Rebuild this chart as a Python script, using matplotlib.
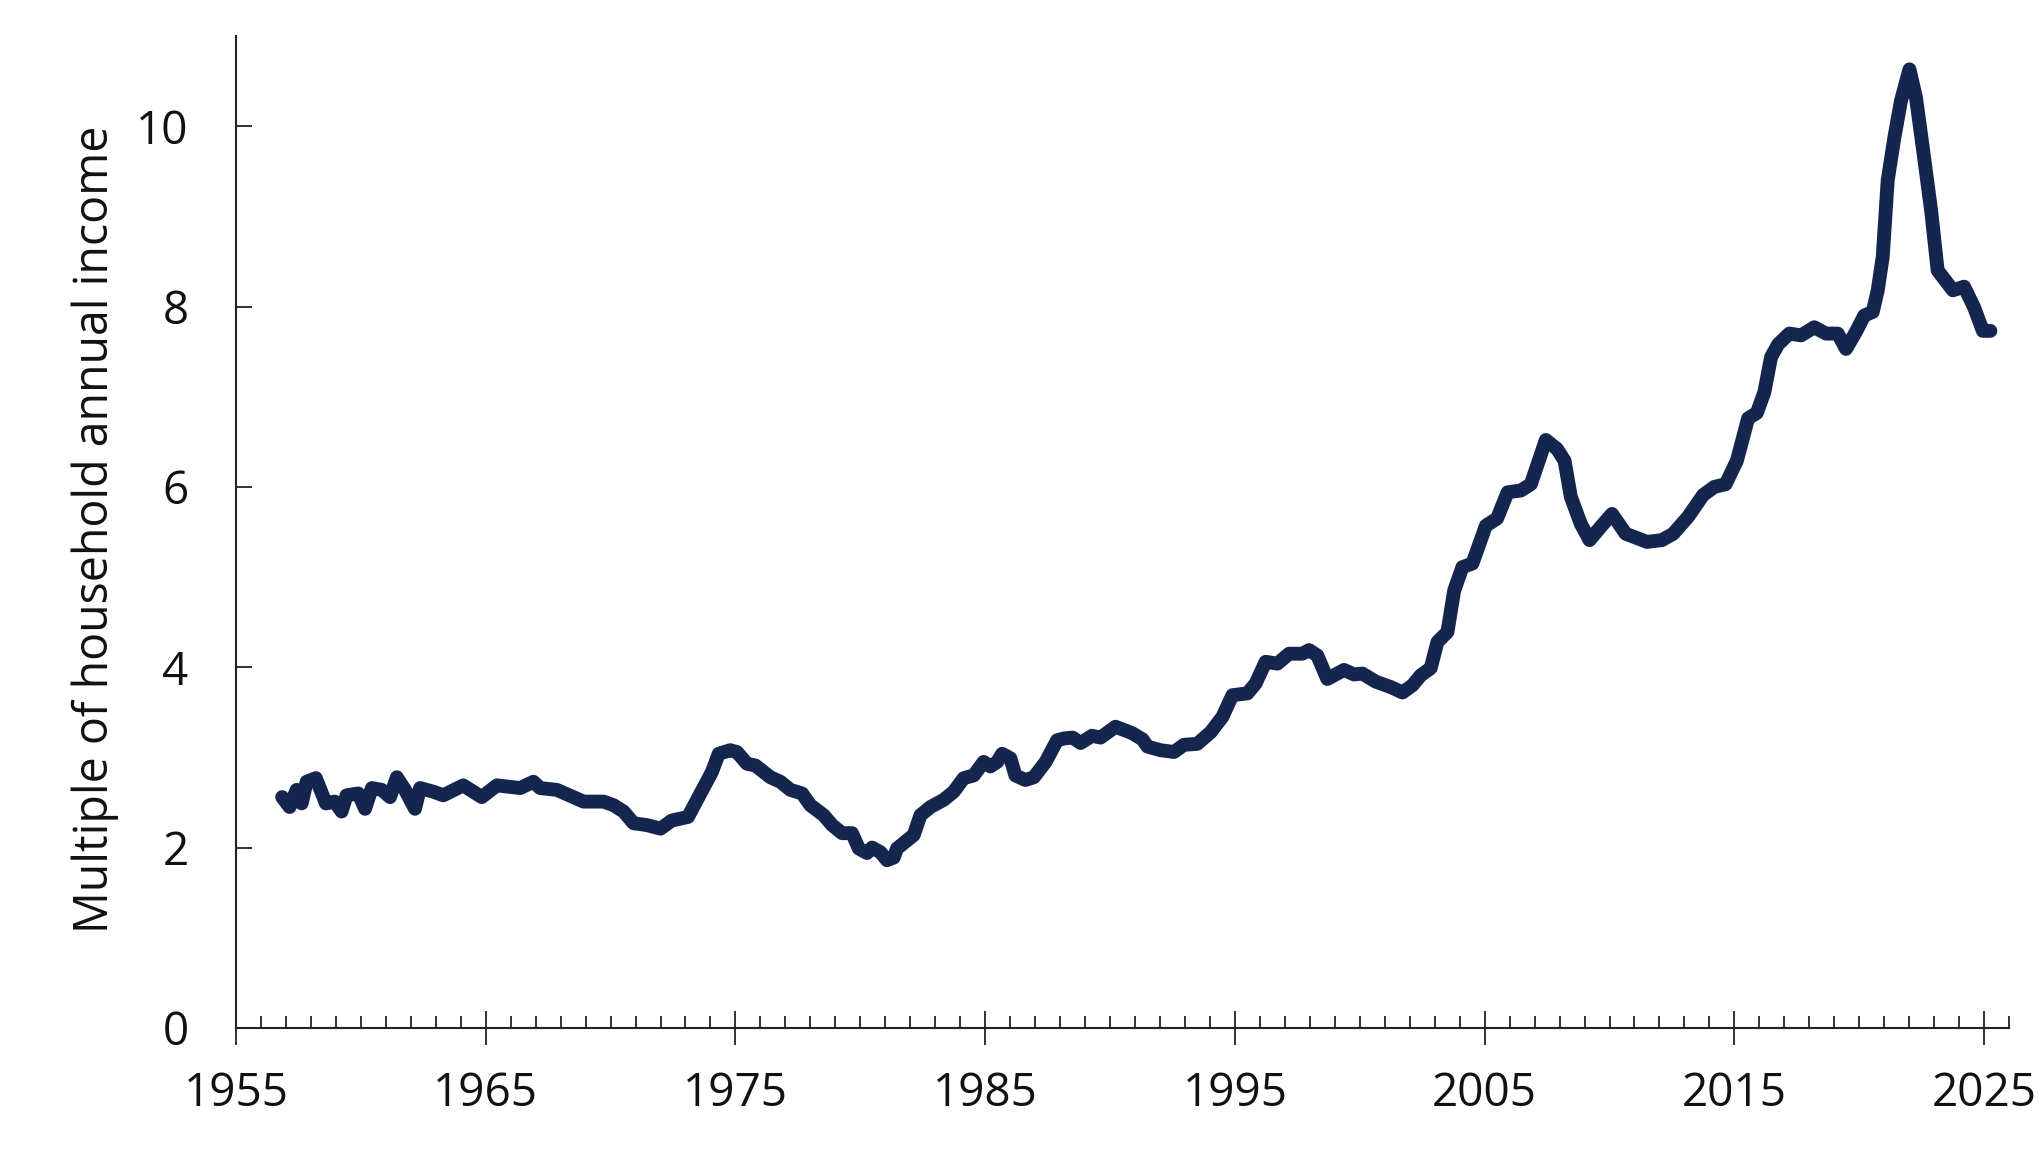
import matplotlib
matplotlib.use("Agg")
import matplotlib.pyplot as plt
from matplotlib.ticker import MultipleLocator

plt.rcParams['font.family'] = ['Open Sans', 'DejaVu Sans']

years = [1956.85, 1957.15, 1957.43, 1957.63, 1957.83, 1958.2, 1958.6, 1958.95, 1959.23, 1959.43,
         1959.9, 1960.17, 1960.44, 1960.84, 1961.17, 1961.44, 1961.77, 1962.17, 1962.37, 1962.9,
         1963.3, 1964.1, 1964.84, 1965.45, 1966.38, 1966.91, 1967.18, 1967.85, 1968.92, 1969.72,
         1970.12, 1970.52, 1970.92, 1971.45, 1972.0, 1972.45, 1973.1, 1973.6, 1974.06, 1974.33,
         1974.79, 1975.06, 1975.46, 1975.8, 1976.4, 1976.8, 1977.2, 1977.67, 1978.0, 1978.53,
         1978.87, 1979.27, 1979.67, 1979.94, 1980.27, 1980.47, 1980.8, 1981.07, 1981.34, 1981.47,
         1981.87, 1982.14, 1982.41, 1982.81, 1983.34, 1983.74, 1984.14, 1984.54, 1984.94, 1985.21,
         1985.48, 1985.68, 1986.01, 1986.21, 1986.61, 1986.95, 1987.42, 1987.88, 1988.15, 1988.5,
         1988.82, 1989.28, 1989.62, 1990.22, 1990.88, 1991.3, 1991.5, 1992.02, 1992.56, 1992.96,
         1993.49, 1994.03, 1994.5, 1994.9, 1995.5, 1995.83, 1996.23, 1996.7, 1997.17, 1997.7,
         1997.97, 1998.3, 1998.7, 1999.37, 1999.77, 2000.1, 2000.64, 2001.24, 2001.71, 2002.11,
         2002.44, 2002.84, 2003.11, 2003.51, 2003.78, 2004.11, 2004.51, 2005.05, 2005.5, 2005.92,
         2006.45, 2006.85, 2007.45, 2007.9, 2008.2, 2008.45, 2008.85, 2009.2, 2009.75, 2010.1,
         2010.65, 2011.5, 2012.1, 2012.55, 2013.15, 2013.75, 2014.2, 2014.65, 2015.1, 2015.55,
         2015.9, 2016.2, 2016.47, 2016.75, 2017.2, 2017.67, 2018.2, 2018.67, 2019.14, 2019.47,
         2019.87, 2020.2, 2020.54, 2020.74, 2020.94, 2021.14, 2021.41, 2021.67, 2022.01, 2022.27,
         2022.54, 2022.88, 2023.14, 2023.75, 2024.2, 2024.6, 2024.95, 2025.25]

multiple = [2.56, 2.45, 2.64, 2.49, 2.73, 2.77, 2.49, 2.51, 2.40, 2.58,
            2.60, 2.43, 2.66, 2.64, 2.56, 2.78, 2.64, 2.43, 2.66, 2.62,
            2.58, 2.69, 2.56, 2.69, 2.66, 2.73, 2.66, 2.64, 2.51, 2.51,
            2.47, 2.40, 2.27, 2.25, 2.21, 2.30, 2.34, 2.60, 2.84, 3.04,
            3.08, 3.06, 2.93, 2.91, 2.78, 2.73, 2.64, 2.60, 2.47, 2.36,
            2.25, 2.16, 2.16, 1.99, 1.94, 2.00, 1.95, 1.86, 1.89, 1.99,
            2.08, 2.14, 2.36, 2.45, 2.53, 2.62, 2.77, 2.80, 2.95, 2.90,
            2.95, 3.04, 2.99, 2.80, 2.75, 2.78, 2.95, 3.19, 3.21, 3.22,
            3.16, 3.24, 3.22, 3.34, 3.27, 3.20, 3.12, 3.08, 3.06, 3.14,
            3.15, 3.28, 3.45, 3.69, 3.71, 3.82, 4.06, 4.04, 4.15, 4.15,
            4.19, 4.13, 3.87, 3.97, 3.92, 3.93, 3.84, 3.78, 3.72, 3.80,
            3.91, 3.99, 4.28, 4.39, 4.85, 5.11, 5.15, 5.57, 5.65, 5.94,
            5.96, 6.03, 6.52, 6.42, 6.29, 5.89, 5.59, 5.41, 5.59, 5.70,
            5.48, 5.39, 5.41, 5.48, 5.67, 5.91, 6.00, 6.03, 6.29, 6.76,
            6.82, 7.05, 7.44, 7.58, 7.70, 7.68, 7.77, 7.70, 7.70, 7.53,
            7.72, 7.90, 7.94, 8.18, 8.55, 9.40, 9.88, 10.28, 10.63, 10.32,
            9.77, 9.06, 8.40, 8.18, 8.22, 7.99, 7.73, 7.73]

x_ticks = [1955, 1965, 1975, 1985, 1995, 2005, 2015, 2025]
y_ticks = [0, 2, 4, 6, 8, 10]
y_label = "Multiple of household annual income"

fig = plt.figure(figsize=(20.43, 11.61), dpi=100)
ax = fig.add_axes([0.1155, 0.1146, 0.8679, 0.8544])

ax.plot(years, multiple, color='#14254e', linewidth=10,
        solid_capstyle='round', solid_joinstyle='round')

ax.set_xlim(1955, 2026)
ax.set_ylim(0, 11)
ax.set_xticks(x_ticks)
ax.set_yticks(y_ticks)
ax.xaxis.set_minor_locator(MultipleLocator(1))

for s in ['top', 'right']:
    ax.spines[s].set_visible(False)
for s in ['left', 'bottom']:
    ax.spines[s].set_color('#222222')
    ax.spines[s].set_linewidth(1.5)

ax.tick_params(axis='x', which='major', direction='inout', length=24, width=1.3,
               color='#222222', labelsize=33, pad=19, labelcolor='#111111')
ax.tick_params(axis='x', which='minor', direction='in', length=8.5, width=1.3,
               color='#222222')
ax.tick_params(axis='y', which='major', direction='in', length=11.5, width=1.3,
               color='#222222', labelsize=33, pad=34, labelcolor='#111111')

ax.set_ylabel(y_label, fontsize=33.5, color='#111111')
ax.yaxis.set_label_coords(-0.066, 0.503)

fig.savefig('out.png', dpi=100)
